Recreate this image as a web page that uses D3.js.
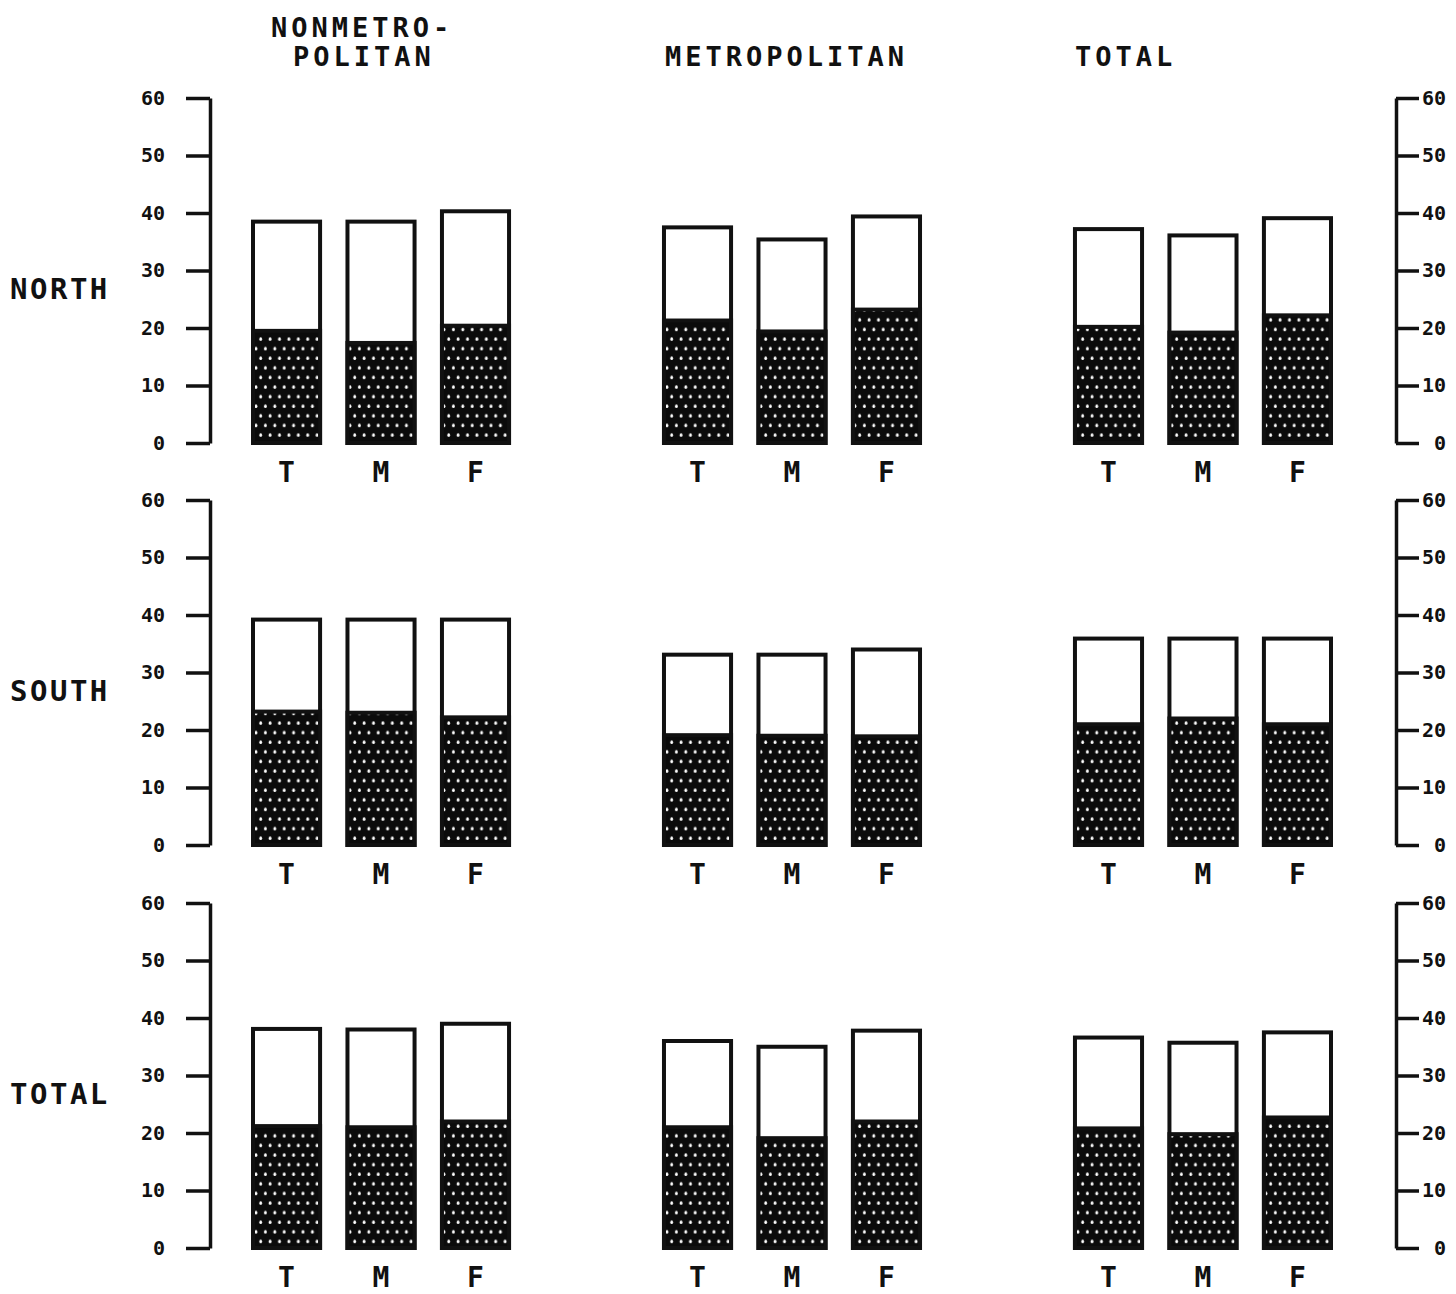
<!DOCTYPE html>
<html>
<head>
<meta charset="utf-8">
<script src="https://cdn.jsdelivr.net/npm/d3@7"></script>
<style>
  html, body { margin: 0; padding: 0; background: #fff; }
  svg text { font-family: "DejaVu Sans Mono", monospace; font-weight: bold; fill: #111; }
</style>
</head>
<body>
<svg id="chart" width="1456" height="1294"></svg>
<script>
// ---- data ----
const columns = ["NONMETROPOLITAN", "METROPOLITAN", "TOTAL"];
const columnTitles = [["NONMETRO-", "POLITAN"], ["METROPOLITAN"], ["TOTAL"]];
const rows = ["NORTH", "SOUTH", "TOTAL"];
const groups = ["T", "M", "F"];
const tickValues = [0, 10, 20, 30, 40, 50, 60];

// total bar heights (white top of bar) per row, per column, per group T/M/F
const northTotal = [[38.5, 38.5, 40.3], [37.5, 35.4, 39.4], [37.2, 36.1, 39.1]];
const southTotal = [[39.2, 39.2, 39.2], [33.1, 33.1, 34.0], [35.9, 35.9, 35.9]];
const allTotal   = [[38.1, 38.0, 39.0], [36.0, 35.0, 37.8], [36.6, 35.7, 37.5]];
// shaded (stippled) portion per row, per column, per group
const northShaded = [[19.5, 17.4, 20.4], [21.3, 19.4, 23.2], [20.2, 19.2, 22.2]];
const southShaded = [[23.2, 23.0, 22.2], [19.1, 19.0, 18.9], [21.0, 22.0, 21.0]];
const allShaded   = [[21.2, 21.0, 22.0], [21.0, 19.1, 22.0], [20.8, 19.8, 22.7]];

const totals = [northTotal, southTotal, allTotal];
const shaded = [northShaded, southShaded, allShaded];

// ---- layout ----
const svg = d3.select("#chart");
const rowTops = [98, 500, 903];
const rowH = 345;

const xCol = d3.scaleBand().domain(columns).range([253, 1331]).paddingInner(0.377).paddingOuter(0);
const xIn = d3.scaleBand().domain(groups).range([0, xCol.bandwidth()]).paddingInner(0.29).paddingOuter(0);

// stipple pattern
const defs = svg.append("defs");
const pat = defs.append("pattern").attr("id", "stipple").attr("patternUnits", "userSpaceOnUse")
  .attr("width", 18.8).attr("height", 19.2);
pat.append("rect").attr("width", 18.8).attr("height", 19.2).attr("fill", "#0b0b0b");
[[3, 3], [12.4, 3], [7.7, 12.6], [17.1, 12.6]].forEach(([cx, cy]) => {
  pat.append("ellipse").attr("cx", cx).attr("cy", cy).attr("rx", 1.4).attr("ry", 1.8).attr("fill", "#fff");
});

// column titles
const titleX = [[271, 293], [665], [1075]];
const titleY = [[37, 66], [66], [66]];
columnTitles.forEach((lines, ci) => {
  lines.forEach((ln, li) => {
    svg.append("text").attr("x", titleX[ci][li]).attr("y", titleY[ci][li])
      .attr("font-size", 27).attr("letter-spacing", 4).text(ln);
  });
});

rows.forEach((rowName, ri) => {
  const y = d3.scaleLinear().domain([0, 60]).range([rowTops[ri] + rowH, rowTops[ri]]);
  const g = svg.append("g");

  // left axis
  const la = g.append("g").attr("transform", `translate(210,0)`)
    .call(d3.axisLeft(y).tickValues(tickValues).tickSize(24).tickSizeOuter(0).tickPadding(21));
  // right axis
  const ra = g.append("g").attr("transform", `translate(1396,0)`)
    .call(d3.axisRight(y).tickValues(tickValues).tickSize(23).tickSizeOuter(0).tickPadding(8));
  [la, ra].forEach(a => {
    a.selectAll("path, line").attr("stroke", "#111").attr("stroke-width", 3.5);
    a.selectAll("text").attr("font-size", 20).attr("font-family", "DejaVu Sans Mono").attr("font-weight", "bold").attr("fill", "#111");
  });
  ra.selectAll("text").attr("text-anchor", "end").attr("x", 50);

  // row label
  g.append("text").attr("x", 10).attr("y", y(25)).attr("font-size", 29).attr("letter-spacing", 2.5).text(rowName);

  columns.forEach((col, ci) => {
    const cg = g.append("g").attr("transform", `translate(${xCol(col)},0)`);
    groups.forEach((grp, gi) => {
      const x0 = xIn(grp), w = xIn.bandwidth();
      const tv = totals[ri][ci][gi], sv = shaded[ri][ci][gi];
      cg.append("rect").attr("x", x0).attr("y", y(tv)).attr("width", w).attr("height", y(0) - y(tv))
        .attr("fill", "#fff").attr("stroke", "#111").attr("stroke-width", 4);
      cg.append("rect").attr("x", x0).attr("y", y(sv)).attr("width", w).attr("height", y(0) - y(sv))
        .attr("fill", "url(#stipple)").attr("stroke", "#111").attr("stroke-width", 4);
      cg.append("text").attr("x", x0 + w / 2).attr("y", y(0) + 39).attr("text-anchor", "middle")
        .attr("font-size", 28).text(grp);
    });
  });
});
</script>
</body>
</html>
